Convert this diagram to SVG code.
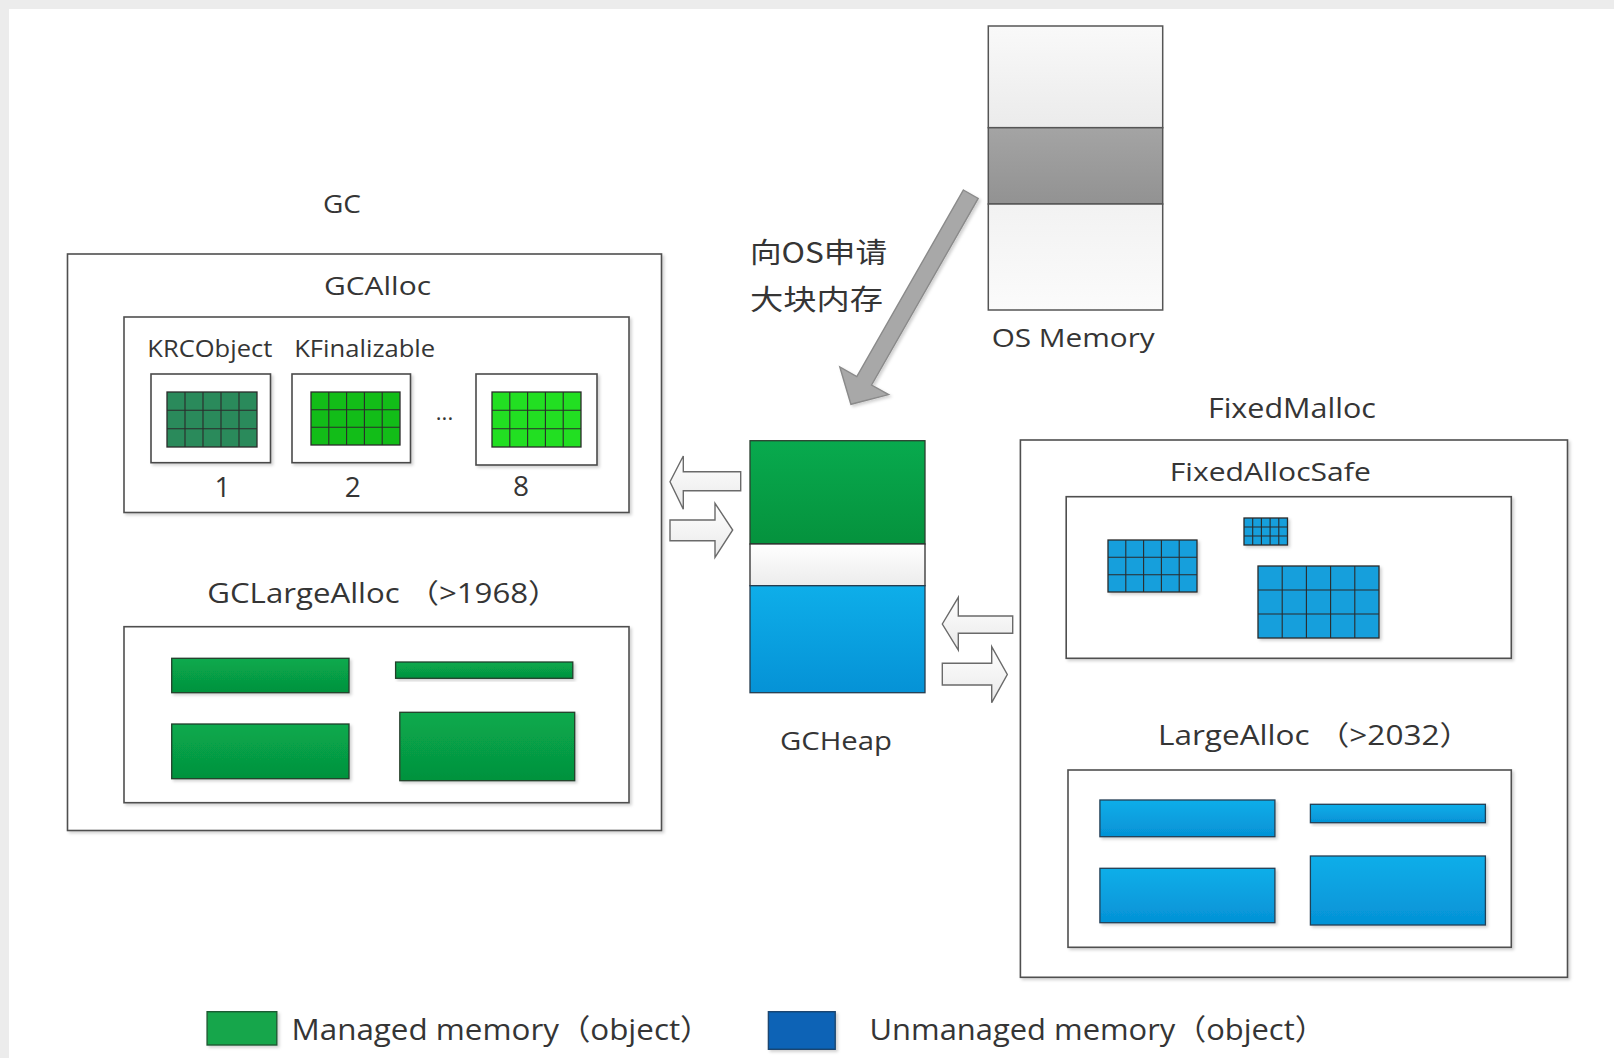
<svg xmlns="http://www.w3.org/2000/svg" width="1614" height="1058" viewBox="0 0 1614 1058">
  <defs>
    <linearGradient id="gGreen" x1="0" y1="0" x2="0" y2="1">
      <stop offset="0" stop-color="#08aa4e"/>
      <stop offset="1" stop-color="#05923d"/>
    </linearGradient>
    <linearGradient id="gBlue" x1="0" y1="0" x2="0" y2="1">
      <stop offset="0" stop-color="#0eaee9"/>
      <stop offset="1" stop-color="#0592d6"/>
    </linearGradient>
    <linearGradient id="gGap" x1="0" y1="0" x2="0" y2="1">
      <stop offset="0" stop-color="#ffffff"/>
      <stop offset="1" stop-color="#ececec"/>
    </linearGradient>
    <linearGradient id="gOsTop" x1="0" y1="0" x2="0" y2="1">
      <stop offset="0" stop-color="#f9f9f9"/>
      <stop offset="1" stop-color="#ebebeb"/>
    </linearGradient>
    <linearGradient id="gOsMid" x1="0" y1="0" x2="0" y2="1">
      <stop offset="0" stop-color="#a4a4a4"/>
      <stop offset="1" stop-color="#929292"/>
    </linearGradient>
    <linearGradient id="gOsBot" x1="0" y1="0" x2="0" y2="1">
      <stop offset="0" stop-color="#f2f2f2"/>
      <stop offset="1" stop-color="#fbfbfb"/>
    </linearGradient>
    <linearGradient id="gHollow" x1="0" y1="0" x2="0" y2="1">
      <stop offset="0" stop-color="#ffffff"/>
      <stop offset="1" stop-color="#e9e9e9"/>
    </linearGradient>
    <filter id="shadow" x="-10%" y="-10%" width="130%" height="130%">
      <feDropShadow dx="2" dy="2" stdDeviation="1.5" flood-color="#000" flood-opacity="0.18"/>
    </filter>
  </defs>
  <style>
    .frame { fill: #ffffff; stroke: #4f4f4f; stroke-width: 1.6; }
    .cell { fill: #ffffff; stroke: #4a4a4a; stroke-width: 1.6; }
    .grid { stroke: #2b2b2b; stroke-width: 1.3; }
    .gridline { stroke: #2b2b2b; stroke-width: 1.1; fill: none; }
    .big-green { fill: url(#gGreen); stroke: #24402c; stroke-width: 1.3; }
    .big-blue { fill: url(#gBlue); stroke: #233f55; stroke-width: 1.3; }
    .hollow { fill: url(#gHollow); stroke: #6a6a6a; stroke-width: 1.4; stroke-linejoin: miter; }
    text { font-family: "Open Sans", "Noto Sans CJK SC", sans-serif; fill: #353535; }
    .cjk { font-family: "Noto Sans CJK SC", sans-serif; }
  </style>

  <!-- page background with light frame band -->
  <rect x="0" y="0" width="1614" height="1058" fill="#ffffff"/>
  <rect x="0" y="0" width="1614" height="9" fill="#ececec"/>
  <rect x="0" y="0" width="9" height="1058" fill="#ececec"/>

  <!-- GC (managed side) -->
  <g id="gc">
    <text x="323" y="213" font-size="26" textLength="38" lengthAdjust="spacingAndGlyphs">GC</text>
    <rect class="frame" x="67.5" y="254" width="594" height="576.5" filter="url(#shadow)"/>
  </g>

  <g id="gc-alloc">
    <text x="324" y="295" font-size="26" textLength="107" lengthAdjust="spacingAndGlyphs">GCAlloc</text>
    <rect class="frame" x="124" y="317" width="505" height="195.5" filter="url(#shadow)"/>
    <text x="147.3" y="356.7" font-size="23" textLength="125" lengthAdjust="spacingAndGlyphs">KRCObject</text>
    <text x="294.2" y="356.7" font-size="23" textLength="141" lengthAdjust="spacingAndGlyphs">KFinalizable</text>
  </g>

  <g id="size-class-1">
    <rect class="cell" x="151" y="374" width="119.5" height="88.7" filter="url(#shadow)"/>
    <rect class="grid" x="167" y="392" width="90" height="55" fill="#2a8a5b"/>
    <path class="gridline" d="M185 392V447M203 392V447M221 392V447M239 392V447M167 410.3H257M167 428.7H257"/>
    <text x="222.6" y="497.3" font-size="28" text-anchor="middle">1</text>
  </g>

  <g id="size-class-2">
    <rect class="cell" x="292" y="374" width="118.5" height="88.7" filter="url(#shadow)"/>
    <rect class="grid" x="311" y="392" width="89" height="53" fill="#12bd18"/>
    <path class="gridline" d="M328.8 392V445M346.6 392V445M364.4 392V445M382.2 392V445M311 409.7H400M311 427.3H400"/>
    <text x="352.8" y="497.3" font-size="28" text-anchor="middle">2</text>
  </g>

  <text x="444.5" y="420" font-size="22" text-anchor="middle">...</text>

  <g id="size-class-8">
    <rect class="cell" x="476" y="374" width="121" height="91" filter="url(#shadow)"/>
    <rect class="grid" x="492" y="392" width="89" height="55" fill="#22df22"/>
    <path class="gridline" d="M509.8 392V447M527.6 392V447M545.4 392V447M563.2 392V447M492 410.3H581M492 428.7H581"/>
    <text x="521" y="495.5" font-size="28" text-anchor="middle">8</text>
  </g>

  <g id="gc-large-alloc">
    <text x="207.3" y="603.3" font-size="27" textLength="352" lengthAdjust="spacingAndGlyphs">GCLargeAlloc （&gt;1968）</text>
    <rect class="frame" x="124" y="626.7" width="505" height="176" filter="url(#shadow)"/>
    <rect class="big-green" x="171.7" y="658.3" width="177.3" height="34.4" filter="url(#shadow)"/>
    <rect class="big-green" x="395.6" y="662" width="177.2" height="16.3" filter="url(#shadow)"/>
    <rect class="big-green" x="171.7" y="724" width="177.3" height="54.7" filter="url(#shadow)"/>
    <rect class="big-green" x="399.8" y="712.3" width="174.9" height="68.4" filter="url(#shadow)"/>
  </g>

  <!-- OS memory column -->
  <g id="os-memory">
    <rect x="988.3" y="26" width="174.4" height="101.7" fill="url(#gOsTop)" stroke="#555" stroke-width="1.5"/>
    <rect x="988.3" y="127.7" width="174.4" height="76.3" fill="url(#gOsMid)" stroke="#555" stroke-width="1.5"/>
    <rect x="988.3" y="204" width="174.4" height="106" fill="url(#gOsBot)" stroke="#555" stroke-width="1.5"/>
    <text x="991.7" y="346.7" font-size="26" textLength="163" lengthAdjust="spacingAndGlyphs">OS Memory</text>
  </g>

  <!-- GC heap -->
  <g id="gc-heap">
    <rect x="750" y="440.7" width="175" height="103.3" fill="url(#gGreen)" stroke="#2a3f2f" stroke-width="1.3"/>
    <rect x="750" y="544" width="175" height="41.7" fill="url(#gGap)" stroke="#2f2f2f" stroke-width="1.3"/>
    <rect x="750" y="585.7" width="175" height="107" fill="url(#gBlue)" stroke="#253c4f" stroke-width="1.3"/>
    <text x="780" y="750" font-size="26" textLength="112" lengthAdjust="spacingAndGlyphs">GCHeap</text>
  </g>

  <!-- FixedMalloc (unmanaged side) -->
  <g id="fixed-malloc">
    <text x="1207.9" y="418.3" font-size="27" textLength="168" lengthAdjust="spacingAndGlyphs">FixedMalloc</text>
    <rect class="frame" x="1020.4" y="440" width="547.1" height="537.3" filter="url(#shadow)"/>
  </g>

  <g id="fixed-alloc-safe">
    <text x="1169.8" y="480.7" font-size="26" textLength="201" lengthAdjust="spacingAndGlyphs">FixedAllocSafe</text>
    <rect class="frame" x="1066.2" y="496.7" width="445.1" height="161.6" filter="url(#shadow)"/>
    <rect class="grid" x="1108" y="540" width="89" height="52" fill="#129fdc" filter="url(#shadow)"/>
    <path class="gridline" d="M1125.8 540V592M1143.6 540V592M1161.4 540V592M1179.2 540V592M1108 557.3H1197M1108 574.7H1197"/>
    <rect class="grid" x="1244" y="518" width="43.5" height="27" fill="#129fdc" filter="url(#shadow)"/>
    <path class="gridline" d="M1252.7 518V545M1261.4 518V545M1270.1 518V545M1278.8 518V545M1244 527H1287.5M1244 536H1287.5"/>
    <rect class="grid" x="1258" y="566" width="121" height="72" fill="#129fdc" filter="url(#shadow)"/>
    <path class="gridline" d="M1282.2 566V638M1306.4 566V638M1330.6 566V638M1354.8 566V638M1258 590H1379M1258 614H1379"/>
  </g>

  <g id="large-alloc">
    <text x="1158" y="745" font-size="27" textLength="313" lengthAdjust="spacingAndGlyphs">LargeAlloc （&gt;2032）</text>
    <rect class="frame" x="1068" y="770" width="443.3" height="177.3" filter="url(#shadow)"/>
    <rect class="big-blue" x="1099.9" y="800" width="175" height="36.7" filter="url(#shadow)"/>
    <rect class="big-blue" x="1310.4" y="804.3" width="175" height="18.4" filter="url(#shadow)"/>
    <rect class="big-blue" x="1099.9" y="868.3" width="175" height="54.4" filter="url(#shadow)"/>
    <rect class="big-blue" x="1310.4" y="856" width="175" height="69" filter="url(#shadow)"/>
  </g>

  <!-- connectors -->
  <g id="connectors">
    <!-- request to the OS for a large block -->
    <polygon points="963.4,190 978.2,198.4 871.6,385 888.6,394.6 850.9,404.3 839.8,367 856.8,376.6" fill="#a8a8a8" stroke="#8a8a8a" stroke-width="1.4" filter="url(#shadow)"/>
    <text class="cjk" x="750" y="263" font-size="28" textLength="137" lengthAdjust="spacingAndGlyphs">向OS申请</text>
    <text class="cjk" x="750" y="310" font-size="28" textLength="133" lengthAdjust="spacingAndGlyphs">大块内存</text>

    <!-- GCAlloc <-> GCHeap -->
    <polygon class="hollow" points="670,481.7 683.3,456 683.3,471.7 740.7,471.7 740.7,490.7 683.3,490.7 683.3,509.3"/>
    <polygon class="hollow" points="670,520 715,520 715,503.3 732.7,530 715,557.3 715,540.7 670,540.7"/>

    <!-- GCHeap <-> FixedMalloc -->
    <polygon class="hollow" points="942.3,624 958.3,597.3 958.3,616 1012.7,616 1012.7,633.3 958.3,633.3 958.3,650"/>
    <polygon class="hollow" points="942.3,663.3 991.7,663.3 991.7,646.7 1007.3,674.5 991.7,702.7 991.7,685 942.3,685"/>
  </g>

  <!-- legend -->
  <g id="legend">
    <rect x="207.1" y="1011.7" width="69.7" height="33.3" fill="#14a64b" stroke="#1f5a33" stroke-width="1.4" filter="url(#shadow)"/>
    <text x="291.5" y="1039.5" font-size="29" textLength="420" lengthAdjust="spacingAndGlyphs">Managed memory（object）</text>
    <rect x="768.4" y="1011.7" width="66.8" height="37.6" fill="#0b64b6" stroke="#1b456f" stroke-width="1.4" filter="url(#shadow)"/>
    <text x="869.6" y="1039.5" font-size="29" textLength="456" lengthAdjust="spacingAndGlyphs">Unmanaged memory（object）</text>
  </g>
</svg>
